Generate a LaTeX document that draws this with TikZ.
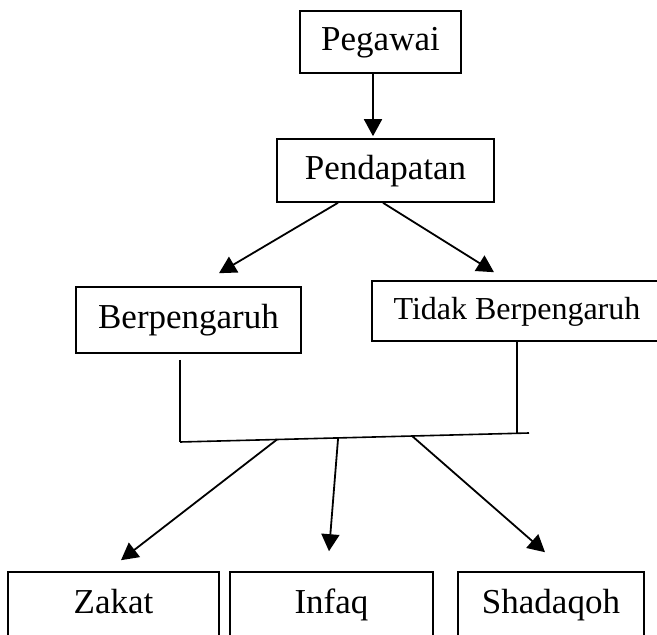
\documentclass[tikz,border=0pt]{standalone}
\usepackage{fontspec}
\setmainfont{Liberation Serif}
\usepackage{tikz}
\usetikzlibrary{arrows.meta,calc,positioning}

\begin{document}
\begin{tikzpicture}[
  x=0.5pt, y=-0.5pt,
  box/.style={draw, line width=0.8pt, inner sep=0pt, text height=12.5pt, text depth=3.5pt,
    font=\fontsize{17.5}{20}\selectfont, align=center},
  arr/.style={-{Triangle[length=8.5pt,width=9pt]}, line width=0.9pt},
  link/.style={line width=0.8pt}
]
\useasboundingbox (0,0) rectangle (657,635);
\clip (0,0) rectangle (657,635);

% Boxes
\node[box, minimum width=80.5pt, minimum height=31pt] (peg) at (380.5,42) {Pegawai};
\node[box, minimum width=108.5pt, minimum height=31.5pt] (pend) at (385.5,170.5) {Pendapatan};
\node[box, minimum width=112.5pt, minimum height=33pt] (berp) at (188.5,320) {Berpengaruh};
\node[box, minimum width=145pt, minimum height=30pt, font=\fontsize{16}{19}\selectfont] (tidak) at (517,311) {Tidak Berpengaruh};

% Bottom boxes
\node[box, minimum width=105.5pt, minimum height=32pt] (zakat) at (113.5,604) {Zakat};
\node[box, minimum width=101.5pt, minimum height=32pt] (infaq) at (331.5,604) {Infaq};
\node[box, minimum width=93pt, minimum height=32pt] (shad) at (551,604) {Shadaqoh};

% Junction bar
\coordinate (barL) at (180,442);
\coordinate (barR) at (529,433);
\draw[link] (barL) -- (barR);
\draw[link] ([yshift=-3pt]berp.south -| barL) -- (barL);
\draw[link] (tidak.south) -- (tidak.south |- barR);

% Arrows
\draw[arr] ([xshift=-3.75pt]peg.south) -- ([xshift=-6.25pt, yshift=1pt]pend.north);
\draw[arr] ([xshift=-23.75pt]pend.south) -- ([xshift=15.25pt, yshift=6.5pt]berp.north);
\draw[arr] ([xshift=-1.25pt]pend.south) -- ([xshift=-11.5pt, yshift=4pt]tidak.north);
\draw[arr] ($(barL)!0.278!(barR)$) -- ([xshift=3.75pt, yshift=5.5pt]zakat.north);
\draw[arr] ($(barL)!0.453!(barR)$) -- ([xshift=-1.25pt, yshift=10pt]infaq.north);
\draw[arr] ($(barL)!0.665!(barR)$) -- ([xshift=-3pt, yshift=9.5pt]shad.north);
\end{tikzpicture}
\end{document}
